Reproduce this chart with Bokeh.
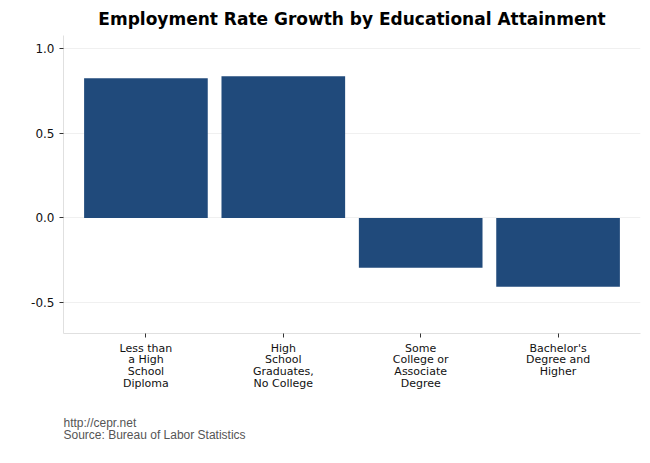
from bokeh.plotting import figure
from bokeh.models import FactorRange, FixedTicker, Title, NumeralTickFormatter, Range1d
from bokeh.embed import file_html
from bokeh.resources import INLINE

categories = ["Less than\na High\nSchool\nDiploma", "High\nSchool\nGraduates,\nNo College",
              "Some\nCollege or\nAssociate\nDegree", "Bachelor's\nDegree and\nHigher"]
values = [0.824, 0.835, -0.294, -0.406]
y_ticks = [-0.5, 0.0, 0.5, 1.0]

p = figure(width=642, height=463, output_backend="svg", toolbar_location=None,
           x_range=FactorRange(*categories, range_padding=0.05, range_padding_units="percent"),
           y_range=Range1d(-0.682, 1.076),
           title="Employment Rate Growth by Educational Attainment",
           min_border_left=63, min_border_right=2, min_border_top=35, min_border_bottom=129)

p.vbar(x=categories, top=values, width=0.9, fill_color="#204a7b", line_color=None)

p.title.align = "center"
p.title.text_font = "DejaVu Sans"
p.title.text_font_size = "17px"
p.title.text_font_style = "bold"
p.title.text_color = "#000000"
p.title.standoff = 13

p.outline_line_color = None
p.xgrid.grid_line_color = None
p.ygrid.grid_line_color = "#f0f0f0"
p.ygrid.ticker = FixedTicker(ticks=y_ticks)

for ax in (p.xaxis[0], p.yaxis[0]):
    ax.axis_line_color = "#e0e0e0"
    ax.major_tick_line_color = "#333333"
    ax.major_tick_in = 0
    ax.major_tick_out = 4
    ax.minor_tick_line_color = None
    ax.major_label_text_font = "DejaVu Sans"
    ax.major_label_text_color = "#111111"

p.yaxis.ticker = FixedTicker(ticks=y_ticks)
p.yaxis.formatter = NumeralTickFormatter(format="0.0")
p.yaxis.major_label_text_font_size = "12px"

p.xaxis.major_label_text_font_size = "11px"
p.xaxis.major_label_text_line_height = 0.9
p.xaxis.major_label_standoff = 4

foot = Title(text="http://cepr.net\nSource: Bureau of Labor Statistics", align="left",
             text_font="Liberation Sans", text_font_size="12px", text_font_style="normal",
             text_color="#555555", standoff=43, text_line_height=0.85)
p.add_layout(foot, "below")

open("out.html", "w").write(file_html(p, INLINE))
